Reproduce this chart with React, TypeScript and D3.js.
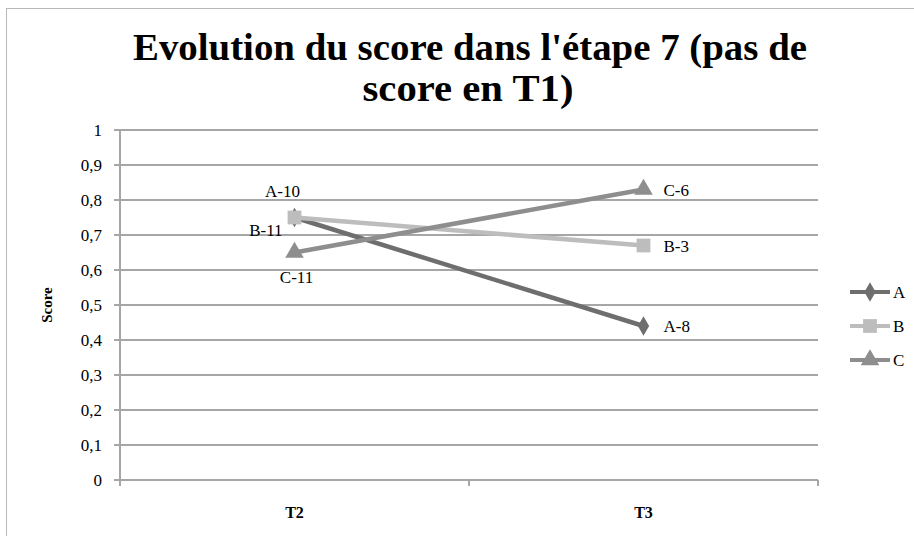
import { useEffect, useRef } from 'react';
import * as d3 from 'd3';

const categories = ['T2', 'T3'];
const seriesNames = ['A', 'B', 'C'];
const valuesA = [0.75, 0.44];
const valuesB = [0.75, 0.67];
const valuesC = [0.65, 0.83];
const labelsA = ['A-10', 'A-8'];
const labelsB = ['B-11', 'B-3'];
const labelsC = ['C-11', 'C-6'];
const yTicks = [0, 0.1, 0.2, 0.3, 0.4, 0.5, 0.6, 0.7, 0.8, 0.9, 1];

const colors = ['#6e6e6e', '#bdbdbd', '#8e8e8e'];
const markers = [d3.symbolDiamond, d3.symbolSquare, d3.symbolTriangle];
const font = "'Liberation Serif', 'DejaVu Serif', serif";

export default function App() {
  const svgRef = useRef<SVGSVGElement>(null);

  useEffect(() => {
    const svg = d3.select(svgRef.current);
    svg.selectAll('*').remove();

    const left = 120, right = 818, top = 130, bottom = 480;
    const x = d3.scaleBand().domain(categories).range([left, right]);
    const y = d3.scaleLinear().domain([0, 1]).range([bottom, top]);

    svg.append('rect').attr('x', 6.5).attr('y', 8.5).attr('width', 920).attr('height', 540)
      .attr('fill', '#fff').attr('stroke', '#b8b8b8');

    // title
    const title = svg.append('text').attr('text-anchor', 'middle').attr('font-family', font)
      .attr('font-weight', 'bold').attr('font-size', 37).attr('fill', '#000');
    title.append('tspan').attr('x', 470).attr('y', 60)
      .attr('textLength', 674).attr('lengthAdjust', 'spacingAndGlyphs')
      .text("Evolution du score dans l'étape 7 (pas de");
    title.append('tspan').attr('x', 468).attr('y', 101)
      .attr('textLength', 211).attr('lengthAdjust', 'spacingAndGlyphs')
      .text('score en T1)');

    // grid
    svg.append('g').selectAll('line').data(yTicks).enter().append('line')
      .attr('x1', left - 6).attr('x2', right)
      .attr('y1', d => y(d)).attr('y2', d => y(d))
      .attr('stroke', '#a6a6a6').attr('stroke-width', 2);
    svg.append('line').attr('x1', left).attr('x2', left).attr('y1', top).attr('y2', bottom + 1)
      .attr('stroke', '#a6a6a6').attr('stroke-width', 2);
    const xTickPos = [left, ...categories.map(c => (x(c) as number) + x.bandwidth())];
    svg.append('g').selectAll('line').data(xTickPos).enter().append('line')
      .attr('x1', d => d).attr('x2', d => d).attr('y1', bottom).attr('y2', bottom + 6)
      .attr('stroke', '#a6a6a6').attr('stroke-width', 2);

    svg.append('g').selectAll('text').data(yTicks).enter().append('text')
      .attr('x', left - 18).attr('y', d => y(d) + 6).attr('text-anchor', 'end')
      .attr('font-family', font).attr('font-size', 17).attr('fill', '#000')
      .text(d => d3.format('~g')(d).replace('.', ','));

    svg.append('g').selectAll('text').data(categories).enter().append('text')
      .attr('x', d => (x(d) as number) + x.bandwidth() / 2).attr('y', 518)
      .attr('text-anchor', 'middle').attr('font-family', font).attr('font-size', 16)
      .attr('font-weight', 'bold').attr('fill', '#000').text(d => d);

    svg.append('text').attr('transform', 'translate(52,305) rotate(-90)').attr('text-anchor', 'middle')
      .attr('font-family', font).attr('font-size', 15).attr('font-weight', 'bold').text('Score');

    const cx = (c: string) => (x(c) as number) + x.bandwidth() / 2;
    const all = [valuesA, valuesB, valuesC];
    const line = d3.line<number>().x((_, i) => cx(categories[i])).y(d => y(d));
    const sizes = [110, 190, 150];

    all.forEach((vals, s) => {
      svg.append('path').attr('d', line(vals)).attr('fill', 'none')
        .attr('stroke', colors[s]).attr('stroke-width', 4.5);
    });
    all.forEach((vals, s) => {
      svg.append('g').selectAll('path').data(vals).enter().append('path')
        .attr('transform', (d, i) => `translate(${cx(categories[i])},${y(d)})`)
        .attr('d', d3.symbol().type(markers[s]).size(sizes[s])())
        .attr('fill', colors[s]);
    });

    // data labels
    const lbls = [labelsA, labelsB, labelsC];
    const offsets = [
      [[-12, -21, 'middle'], [20, 6, 'start']],
      [[-12, 18, 'end'], [20, 6, 'start']],
      [[2, 30, 'middle'], [20, 6, 'start']],
    ];
    lbls.forEach((arr, s) => {
      arr.forEach((t, i) => {
        const o = offsets[s][i];
        svg.append('text').attr('x', cx(categories[i]) + (o[0] as number))
          .attr('y', y(all[s][i]) + (o[1] as number))
          .attr('text-anchor', o[2] as string).attr('font-family', font).attr('font-size', 17)
          .attr('fill', '#000').text(t);
      });
    });

    // legend
    seriesNames.forEach((n, s) => {
      const ly = 292 + s * 34;
      const g = svg.append('g');
      g.append('line').attr('x1', 850).attr('x2', 890).attr('y1', ly).attr('y2', ly)
        .attr('stroke', colors[s]).attr('stroke-width', 4);
      g.append('path').attr('transform', `translate(870,${ly})`)
        .attr('d', d3.symbol().type(markers[s]).size(sizes[s])()).attr('fill', colors[s]);
      g.append('text').attr('x', 893).attr('y', ly + 6).attr('font-family', font)
        .attr('font-size', 17).attr('fill', '#000').text(n);
    });
  }, []);

  return (
    <div style={{ position: 'absolute', left: 0, top: 0 }}>
      <svg ref={svgRef} width={914} height={536} style={{ display: 'block' }} />
    </div>
  );
}
